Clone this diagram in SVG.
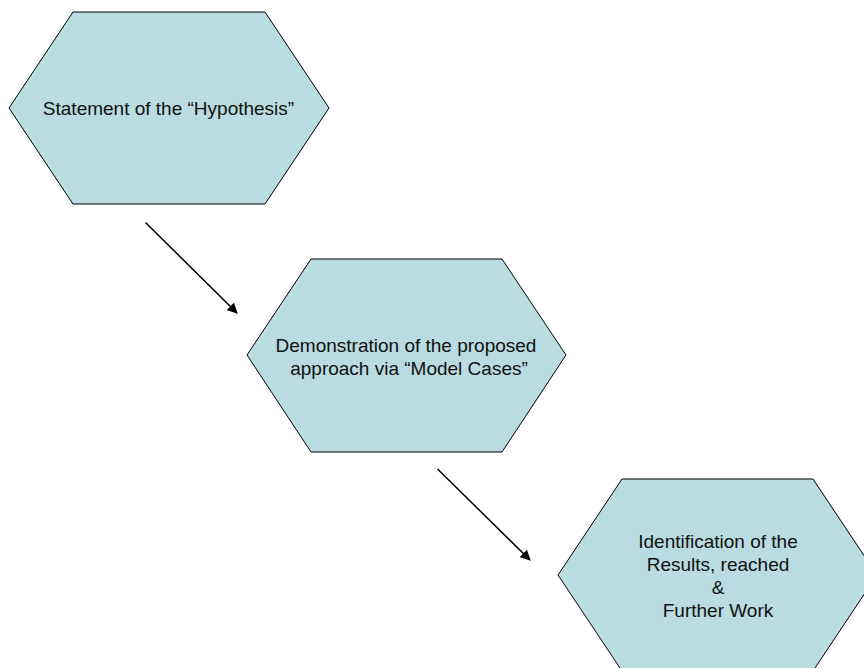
<svg xmlns="http://www.w3.org/2000/svg" width="864" height="668" viewBox="0 0 864 668">
<defs>
<style>
.hex{fill:#b8dce0;stroke:#000;stroke-width:1}
.t{font-family:"Liberation Sans",Arial,sans-serif;font-size:19px;fill:#111;text-anchor:middle}
.c{stroke:#000;stroke-width:1.5;fill:none;marker-end:url(#ah)}
</style>
<marker id="ah" viewBox="0 0 10 10" refX="9" refY="5" markerWidth="7" markerHeight="7" markerUnits="strokeWidth" orient="auto">
<path d="M0,0 L10,5 L0,10 z" fill="#000"/>
</marker>
</defs>
<rect width="864" height="668" fill="#fff"/>
<g id="node1">
<polygon class="hex" points="73,12 265,12 329,108 265,204 73,204 9,108"/>
<text class="t" x="168.5" y="115">Statement of the “Hypothesis”</text>
</g>
<g id="node2">
<polygon class="hex" points="311,259 502,259 566,355 502,452 311,452 247,355"/>
<text class="t" x="406" y="352">Demonstration of the proposed</text>
<text class="t" x="409" y="374.5">approach via “Model Cases”</text>
</g>
<g id="node3">
<polygon class="hex" points="622,479 813,479 877,575 813,671 622,671 558,575"/>
<text class="t" x="718" y="547.5">Identification of the</text>
<text class="t" x="718" y="571">Results, reached</text>
<text class="t" x="718" y="594">&amp;</text>
<text class="t" x="718" y="617">Further Work</text>
</g>
<g id="connectors">
<line class="c" x1="145.5" y1="222.5" x2="237" y2="313"/>
<line class="c" x1="437.5" y1="469" x2="530" y2="560"/>
</g>
</svg>
